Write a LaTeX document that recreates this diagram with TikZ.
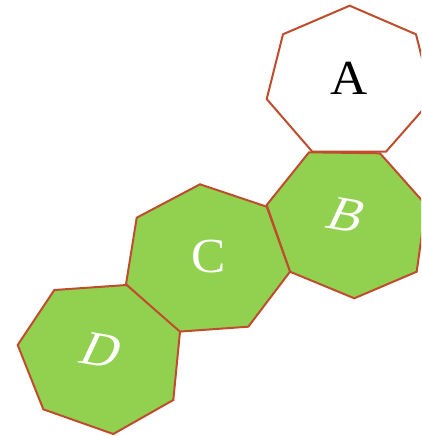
\documentclass[tikz,border=0pt]{standalone}
\usepackage{fontspec}
\setmainfont{Liberation Serif}
\definecolor{hepgreen}{RGB}{146,208,80}
\definecolor{hepedge}{RGB}{192,76,46}
\begin{document}
\begin{tikzpicture}[x=1pt,y=-1pt,
  hep/.style={draw=hepedge,line width=2pt,line join=miter},
  hepfill/.style={hep,fill=hepgreen},
  lbl/.style={inner sep=0pt,font=\fontsize{49}{52}\selectfont,xscale=1.05},
  wlbl/.style={lbl,text=white},
  slanted/.style={rotate=-10,xslant=0.25}]
\useasboundingbox (0,0) rectangle (421,436);
\clip (0,0) rectangle (421,436);
% A
\draw[hep,fill=white] (349.7,5.7) -- (283,34.3) -- (266.7,99) -- (312.3,151.7) -- (386,151.7) -- (432.3,99) -- (416,34.3) -- cycle;
% B
\draw[hepfill] (309,152.3) -- (380,153.3) -- (426,205) -- (416.7,271.7) -- (354.3,298.3) -- (290,271.7) -- (266.7,205) -- cycle;
% C
\draw[hepfill] (200,184.3) -- (136.7,217.7) -- (126,284.3) -- (178.3,331.7) -- (248.3,326.7) -- (290,271.7) -- (266.7,206.7) -- cycle;
% D
\draw[hepfill] (54.3,290) -- (126.7,285) -- (180,331.7) -- (173.3,400) -- (113.3,434) -- (43.3,409.3) -- (17.7,345) -- cycle;
\node[lbl] (la) at (349,78) {A};
\node[wlbl,slanted] (lb) at (347.3,215.7) {B};
\node[wlbl] (lc) at (208.5,256.7) {C};
\node[wlbl,slanted] (ld) at (102.3,350.7) {D};
\end{tikzpicture}
\end{document}
